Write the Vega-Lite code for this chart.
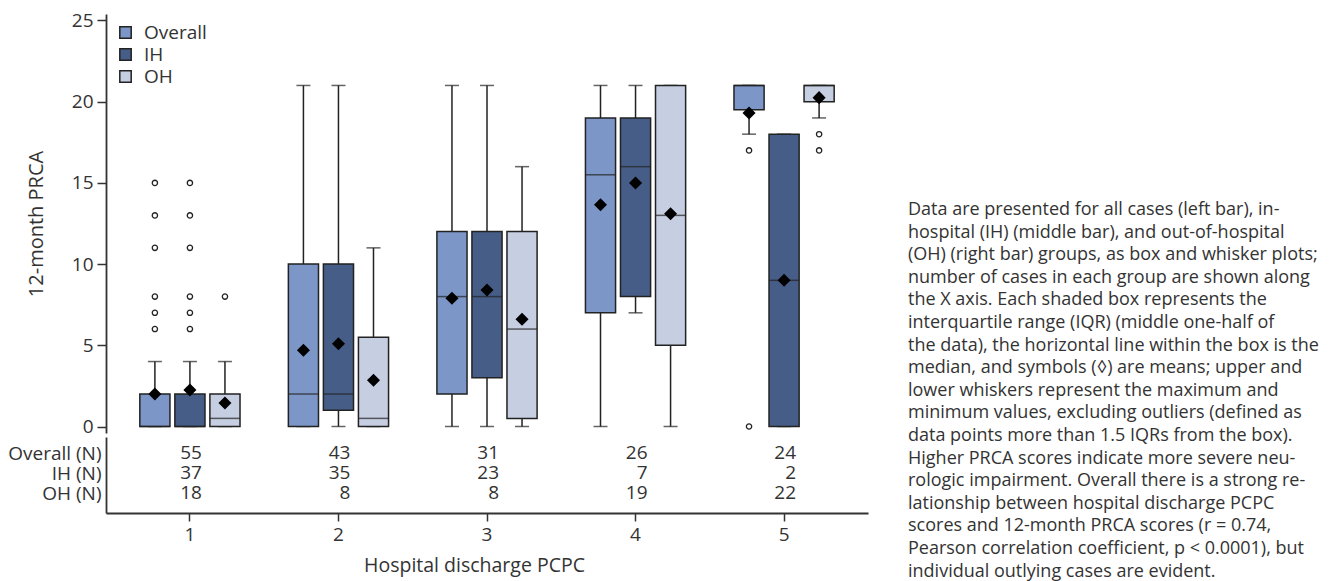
{
  "$schema": "https://vega.github.io/schema/vega-lite/v6.json",
  "padding": {"left": 7, "top": 11, "right": 5, "bottom": 0},
  "spacing": 40,
  "config": {
    "font": "Open Sans",
    "view": {"stroke": null},
    "axis": {"domainColor": "#333333", "domainWidth": 1.8, "tickColor": "#333333", "tickWidth": 1.5, "labelColor": "#333333", "titleColor": "#333333", "labelFontSize": 19, "titleFontSize": 20, "titleFontWeight": "normal", "labelFont": "Open Sans", "titleFont": "Open Sans", "grid": false},
    "legend": {"labelFont": "Open Sans"}
  },
  "datasets": {
    "boxes": [
      {"pcpc": 1, "group": "Overall", "lower": 0, "q1": 0, "median": 0, "q3": 2, "upper": 4, "mean": 2.0},
      {"pcpc": 1, "group": "IH", "lower": 0, "q1": 0, "median": 0, "q3": 2, "upper": 4, "mean": 2.25},
      {"pcpc": 1, "group": "OH", "lower": 0, "q1": 0, "median": 0.5, "q3": 2, "upper": 4, "mean": 1.45},
      {"pcpc": 2, "group": "Overall", "lower": 0, "q1": 0, "median": 2, "q3": 10, "upper": 21, "mean": 4.7},
      {"pcpc": 2, "group": "IH", "lower": 0, "q1": 1, "median": 2, "q3": 10, "upper": 21, "mean": 5.1},
      {"pcpc": 2, "group": "OH", "lower": 0, "q1": 0, "median": 0.5, "q3": 5.5, "upper": 11, "mean": 2.85},
      {"pcpc": 3, "group": "Overall", "lower": 0, "q1": 2, "median": 8, "q3": 12, "upper": 21, "mean": 7.9},
      {"pcpc": 3, "group": "IH", "lower": 0, "q1": 3, "median": 8, "q3": 12, "upper": 21, "mean": 8.4},
      {"pcpc": 3, "group": "OH", "lower": 0, "q1": 0.5, "median": 6, "q3": 12, "upper": 16, "mean": 6.6},
      {"pcpc": 4, "group": "Overall", "lower": 0, "q1": 7, "median": 15.5, "q3": 19, "upper": 21, "mean": 13.65},
      {"pcpc": 4, "group": "IH", "lower": 7, "q1": 8, "median": 16, "q3": 19, "upper": 21, "mean": 15.0},
      {"pcpc": 4, "group": "OH", "lower": 0, "q1": 5, "median": 13, "q3": 21, "upper": 21, "mean": 13.1},
      {"pcpc": 5, "group": "Overall", "lower": 18, "q1": 19.5, "median": 21, "q3": 21, "upper": 21, "mean": 19.3},
      {"pcpc": 5, "group": "IH", "lower": 0, "q1": 0, "median": 9, "q3": 18, "upper": 18, "mean": 9.0},
      {"pcpc": 5, "group": "OH", "lower": 19, "q1": 20, "median": 21, "q3": 21, "upper": 21, "mean": 20.25}
    ],
    "outliers": [
      {"pcpc": 1, "group": "Overall", "value": 6},
      {"pcpc": 1, "group": "Overall", "value": 7},
      {"pcpc": 1, "group": "Overall", "value": 8},
      {"pcpc": 1, "group": "Overall", "value": 11},
      {"pcpc": 1, "group": "Overall", "value": 13},
      {"pcpc": 1, "group": "Overall", "value": 15},
      {"pcpc": 1, "group": "IH", "value": 6},
      {"pcpc": 1, "group": "IH", "value": 7},
      {"pcpc": 1, "group": "IH", "value": 8},
      {"pcpc": 1, "group": "IH", "value": 11},
      {"pcpc": 1, "group": "IH", "value": 13},
      {"pcpc": 1, "group": "IH", "value": 15},
      {"pcpc": 1, "group": "OH", "value": 8},
      {"pcpc": 5, "group": "Overall", "value": 17},
      {"pcpc": 5, "group": "Overall", "value": 0},
      {"pcpc": 5, "group": "OH", "value": 18},
      {"pcpc": 5, "group": "OH", "value": 17}
    ],
    "counts": [
      {"pcpc": 1, "row": "Overall (N)", "n": 55},
      {"pcpc": 1, "row": "IH (N)", "n": 37},
      {"pcpc": 1, "row": "OH (N)", "n": 18},
      {"pcpc": 2, "row": "Overall (N)", "n": 43},
      {"pcpc": 2, "row": "IH (N)", "n": 35},
      {"pcpc": 2, "row": "OH (N)", "n": 8},
      {"pcpc": 3, "row": "Overall (N)", "n": 31},
      {"pcpc": 3, "row": "IH (N)", "n": 23},
      {"pcpc": 3, "row": "OH (N)", "n": 8},
      {"pcpc": 4, "row": "Overall (N)", "n": 26},
      {"pcpc": 4, "row": "IH (N)", "n": 7},
      {"pcpc": 4, "row": "OH (N)", "n": 19},
      {"pcpc": 5, "row": "Overall (N)", "n": 24},
      {"pcpc": 5, "row": "IH (N)", "n": 2},
      {"pcpc": 5, "row": "OH (N)", "n": 22}
    ],
    "caption": [
      {"line": 1, "text": "Data are presented for all cases (left bar), in-"},
      {"line": 2, "text": "hospital (IH) (middle bar), and out-of-hospital"},
      {"line": 3, "text": "(OH) (right bar) groups, as box and whisker plots;"},
      {"line": 4, "text": "number of cases in each group are shown along"},
      {"line": 5, "text": "the X axis. Each shaded box represents the"},
      {"line": 6, "text": "interquartile range (IQR) (middle one-half of"},
      {"line": 7, "text": "the data), the horizontal line within the box is the"},
      {"line": 8, "text": "median, and symbols (◊) are means; upper and"},
      {"line": 9, "text": "lower whiskers represent the maximum and"},
      {"line": 10, "text": "minimum values, excluding outliers (defined as"},
      {"line": 11, "text": "data points more than 1.5 IQRs from the box)."},
      {"line": 12, "text": "Higher PRCA scores indicate more severe neu-"},
      {"line": 13, "text": "rologic impairment. Overall there is a strong re-"},
      {"line": 14, "text": "lationship between hospital discharge PCPC"},
      {"line": 15, "text": "scores and 12-month PRCA scores (r = 0.74,"},
      {"line": 16, "text": "Pearson correlation coefficient, p < 0.0001), but"},
      {"line": 17, "text": "individual outlying cases are evident."}
    ]
  },
  "hconcat": [
    {
      "vconcat": [
        {
          "width": 762,
          "height": 419,
          "data": {"name": "boxes"},
          "encoding": {
            "x": {"field": "pcpc", "type": "ordinal", "scale": {"type": "band", "domain": [1, 2, 3, 4, 5], "paddingInner": 0, "paddingOuter": 0.065}, "axis": null},
            "xOffset": {"field": "group", "type": "nominal", "scale": {"domain": ["Overall", "IH", "OH"], "paddingInner": 0.14, "paddingOuter": 0.69}}
          },
          "layer": [
            {
              "mark": {"type": "rule", "color": "#222222", "strokeWidth": 1.5},
              "encoding": {
                "y": {"field": "lower", "type": "quantitative", "scale": {"domain": [-0.4, 25.4], "nice": false, "zero": false},
                  "axis": {"title": "12-month PRCA", "values": [0, 5, 10, 15, 20, 25], "tickSize": 9, "labelPadding": 4, "titleX": -60}},
                "y2": {"field": "upper"}
              }
            },
            {
              "mark": {"type": "tick", "color": "#222222", "thickness": 1.5, "size": 14},
              "encoding": {"y": {"field": "upper", "type": "quantitative"}}
            },
            {
              "mark": {"type": "tick", "color": "#222222", "thickness": 1.5, "size": 14},
              "encoding": {"y": {"field": "lower", "type": "quantitative"}}
            },
            {
              "mark": {"type": "bar", "stroke": "#222222", "strokeWidth": 1.5, "opacity": 1},
              "encoding": {
                "y": {"field": "q1", "type": "quantitative"},
                "y2": {"field": "q3"},
                "fill": {"field": "group", "type": "nominal",
                  "scale": {"domain": ["Overall", "IH", "OH"], "range": ["#7b96c7", "#465e87", "#c6cee2"]},
                  "legend": {"title": null, "orient": "none", "legendX": 10, "legendY": 9, "symbolType": "square", "symbolSize": 130, "symbolStrokeColor": "#222222", "symbolStrokeWidth": 1.5, "symbolOpacity": 1, "labelFontSize": 19, "labelColor": "#333333", "rowPadding": 2, "labelOffset": 9}}
              }
            },
            {
              "mark": {"type": "tick", "color": "#222222", "thickness": 1.5, "size": 30},
              "encoding": {"y": {"field": "median", "type": "quantitative"}}
            },
            {
              "mark": {"type": "point", "shape": "diamond", "filled": true, "color": "#000000", "size": 170, "opacity": 1},
              "encoding": {"y": {"field": "mean", "type": "quantitative"}}
            },
            {
              "data": {"name": "outliers"},
              "mark": {"type": "point", "shape": "circle", "filled": false, "stroke": "#222222", "strokeWidth": 1.3, "size": 28, "opacity": 1},
              "encoding": {"y": {"field": "value", "type": "quantitative"}}
            }
          ]
        },
        {
          "width": 762,
          "height": 76,
          "data": {"name": "counts"},
          "mark": {"type": "text", "align": "right", "dx": 12, "fontSize": 19, "color": "#333333"},
          "encoding": {
            "x": {"field": "pcpc", "type": "ordinal", "scale": {"type": "band", "domain": [1, 2, 3, 4, 5], "paddingInner": 0, "paddingOuter": 0.065},
              "axis": {"title": "Hospital discharge PCPC", "labelAngle": 0, "tickSize": 8, "labelPadding": 4, "titlePadding": 12, "titleX": 368, "titleFontSize": 19.5}},
            "y": {"field": "row", "type": "nominal", "scale": {"type": "point", "domain": ["Overall (N)", "IH (N)", "OH (N)"], "padding": 0.9, "align": 0.45},
              "axis": {"title": null, "ticks": false, "labelPadding": 5}},
            "text": {"field": "n", "type": "quantitative"}
          }
        }
      ],
      "spacing": 0
    },
    {
      "width": 425,
      "height": 560,
      "data": {"name": "caption"},
      "mark": {"type": "text", "align": "left", "baseline": "middle", "fontSize": 18, "color": "#333333"},
      "encoding": {
        "x": {"datum": 0, "type": "quantitative", "scale": {"domain": [0, 1]}, "axis": null},
        "y": {"field": "line", "type": "quantitative", "scale": {"domain": [-7.67, 17.11], "reverse": true, "nice": false, "zero": false}, "axis": null},
        "text": {"field": "text"}
      }
    }
  ]
}
